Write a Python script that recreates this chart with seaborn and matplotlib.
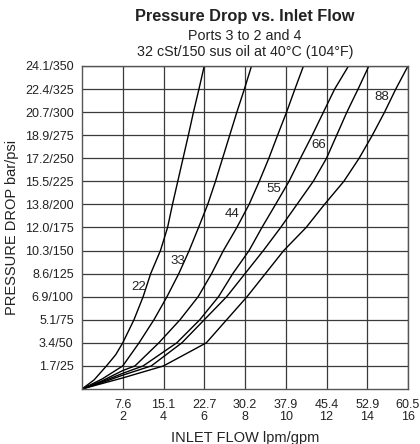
import matplotlib
matplotlib.use('Agg')
import matplotlib.pyplot as plt
import seaborn as sns

# Flow in gpm, pressure drop in psi
flow_22 = [0, 0.6, 1.2, 1.65, 2.0, 2.55, 3.0, 3.37, 3.85, 4.2, 4.44, 4.7, 4.96, 5.22, 5.47, 5.74, 6.0]
psi_22 = [0, 10, 25, 37, 50, 75, 100, 125, 150, 175, 200, 225, 250, 275, 300, 325, 350]

flow_33 = [0, 1.0, 2.0, 2.8, 3.53, 4.17, 4.75, 5.26, 5.72, 6.17, 6.55, 6.9, 7.25, 7.6, 7.97, 8.32]
psi_33 = [0, 11, 25, 50, 75, 100, 125, 150, 175, 200, 225, 250, 275, 300, 325, 350]

flow_44 = [0, 1.0, 2.0, 2.6, 3.77, 4.81, 5.7, 6.36, 6.94, 7.6, 8.2, 8.7, 9.17, 9.6, 10.04, 10.45, 10.87]
psi_44 = [0, 9, 20, 25, 50, 75, 100, 125, 150, 175, 200, 225, 250, 275, 300, 325, 350]

flow_55 = [0, 1.0, 2.0, 3.0, 4.65, 5.78, 6.7, 7.4, 8.2, 8.83, 9.5, 10.16, 10.72, 11.3, 11.85, 12.4, 13.08]
psi_55 = [0, 8, 17, 25, 50, 75, 100, 125, 150, 175, 200, 225, 250, 275, 300, 325, 350]

flow_66 = [0, 1.0, 2.0, 3.4, 4.9, 6.0, 7.1, 8.0, 8.9, 9.75, 10.55, 11.35, 12.0, 12.5, 13.0, 13.55, 14.08]
psi_66 = [0, 7, 15, 25, 50, 75, 100, 125, 150, 175, 200, 225, 250, 275, 300, 325, 350]

flow_88 = [0, 2.0, 4.0, 6.1, 7.1, 8.1, 9.0, 9.9, 11.0, 11.9, 12.85, 13.6, 14.25, 14.85, 15.4, 16.0]
psi_88 = [0, 12, 25, 50, 75, 100, 125, 150, 175, 200, 225, 250, 275, 300, 325, 350]

curves = [(flow_22, psi_22), (flow_33, psi_33), (flow_44, psi_44),
          (flow_55, psi_55), (flow_66, psi_66), (flow_88, psi_88)]

# curve labels: text, gpm, psi
curve_labels = ['22', '33', '44', '55', '66', '88']
label_flow = [2.78, 4.7, 7.37, 9.4, 11.6, 14.7]
label_psi = [111, 139, 190, 217, 264, 316]

gpm_ticks = [2, 4, 6, 8, 10, 12, 14, 16]
lpm_ticks = ['7.6', '15.1', '22.7', '30.2', '37.9', '45.4', '52.9', '60.5']
psi_ticks = [25, 50, 75, 100, 125, 150, 175, 200, 225, 250, 275, 300, 325, 350]
bar_ticks = ['1.7', '3.4', '5.1', '6.9', '8.6', '10.3', '12.0', '13.8',
             '15.5', '17.2', '18.9', '20.7', '22.4', '24.1']

sns.set_theme(style='white')
plt.rcParams['font.family'] = ['Liberation Sans', 'DejaVu Sans']
text_col = '#222222'

fig = plt.figure(figsize=(4.2, 4.44), dpi=100)
ax = fig.add_axes([82 / 420, 1 - 389 / 444, 326 / 420, 323 / 444])

for fx, py in curves:
    sns.lineplot(x=fx, y=py, ax=ax, sort=False, color='black', linewidth=1.0, estimator=None)

for txt, lx, ly in zip(curve_labels, label_flow, label_psi):
    ax.text(lx, ly, txt, fontsize=9.5, color=text_col, ha='center', va='center')

ax.set_xlim(0, 16)
ax.set_ylim(0, 350)
ax.set_xticks(gpm_ticks)
ax.set_xticklabels([f'{l}\n{g}' for l, g in zip(lpm_ticks, gpm_ticks)], fontsize=9,
                   color=text_col, linespacing=1.0)
ax.set_yticks(psi_ticks)
ax.set_yticklabels([f'{b}/{p}' for b, p in zip(bar_ticks, psi_ticks)], fontsize=9, color=text_col)
ax.tick_params(length=0, pad=6)
ax.tick_params(axis='x', pad=7)
ax.grid(True, color='#3a3a3a', linewidth=0.9)
for s in ax.spines.values():
    s.set_color('#555555')
    s.set_linewidth(1.0)

ax.set_xlabel('INLET FLOW lpm/gpm', fontsize=10.5, color=text_col, labelpad=6)
ax.set_ylabel('PRESSURE DROP bar/psi', fontsize=10.5, color=text_col, labelpad=4)

fig.text(245 / 420, 1 - 17 / 444, 'Pressure Drop vs. Inlet Flow', fontsize=11.8,
         fontweight='bold', ha='center', va='center', color=text_col)
fig.text(245 / 420, 1 - 36 / 444, 'Ports 3 to 2 and 4', fontsize=10.3,
         ha='center', va='center', color=text_col)
fig.text(245 / 420, 1 - 52 / 444, '32 cSt/150 sus oil at 40\u00b0C (104\u00b0F)', fontsize=10.3,
         ha='center', va='center', color=text_col)

fig.savefig('out.png', dpi=100)
